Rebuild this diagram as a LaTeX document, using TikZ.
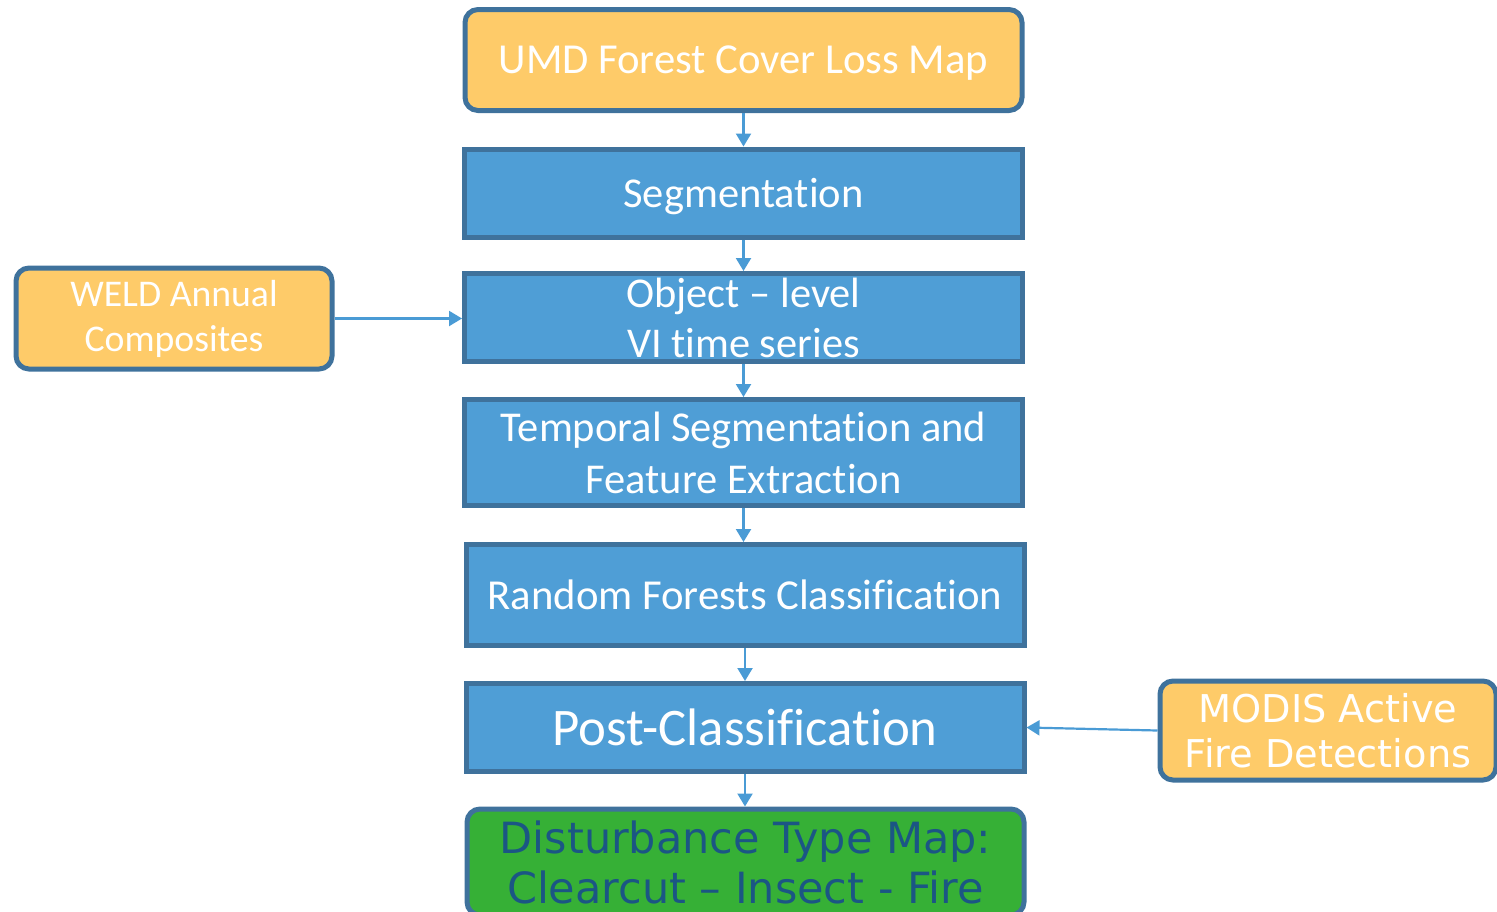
\documentclass[tikz,border=0pt]{standalone}
\usepackage{fontspec}
\setmainfont{Carlito}[Ligatures={TeX,NoCommon}]
\newfontfamily\verd{DejaVu Sans}[Ligatures=TeX]
\usetikzlibrary{arrows.meta}
\definecolor{orangefill}{HTML}{FECB69}
\definecolor{edgeblue}{HTML}{3F729C}
\definecolor{boxblue}{HTML}{4F9ED6}
\definecolor{arrowblue}{HTML}{4A9BD5}
\definecolor{greenfill}{HTML}{36B036}
\definecolor{darktext}{HTML}{1B5684}
\tikzset{
  box/.style={draw=edgeblue, line width=5pt, inner sep=0pt, align=center, text=white},
  ibox/.style={box, rounded corners=13pt, fill=orangefill},
  pbox/.style={box, fill=boxblue},
  oneline/.style={text depth=0pt},
  conn/.style={draw=arrowblue, line width=2.2pt, -{Triangle[length=13pt,width=15pt]}},
}
\begin{document}
\begin{tikzpicture}[x=1pt,y=-1pt]
\useasboundingbox (0,0) rectangle (1497,911);
\begin{scope}
\clip (0,0) rectangle (1497,911);
\node[ibox, oneline, minimum width=557pt, minimum height=101pt, font=\fontsize{42.7}{50}\selectfont] (umd) at (743.5,60) {UMD Forest Cover Loss Map};
\node[pbox, oneline, minimum width=558pt, minimum height=88pt, font=\fontsize{42.5}{50}\selectfont] (seg) at (743.5,193) {Segmentation};
\node[pbox, minimum width=558pt, minimum height=88pt, font=\fontsize{42.4}{50}\selectfont] (obj) at (743.5,317.5) {Object – level\\VI time series};
\node[pbox, minimum width=558pt, minimum height=106pt, font=\fontsize{42.5}{52}\selectfont] (temp) at (743.5,452.5) {Temporal Segmentation and\\Feature Extraction};
\node[pbox, oneline, minimum width=558pt, minimum height=101pt, font=\fontsize{42.7}{50}\selectfont] (rf) at (745,595) {Random Forests Classification};
\node[pbox, oneline, minimum width=558pt, minimum height=88pt, font=\fontsize{52.8}{60}\selectfont] (post) at (745,727.5) {Post-Classification};
\node[ibox, fill=greenfill, text=darktext, minimum width=557pt, minimum height=106pt, font=\verd\fontsize{43}{50}\selectfont] (dist) at (745.5,862) {Disturbance Type Map:\\Clearcut – Insect - Fire};
\node[ibox, minimum width=316pt, minimum height=101pt, font=\fontsize{37.7}{45}\selectfont] (weld) at (174,318.5) {WELD Annual\\Composites};
\node[ibox, minimum width=336pt, minimum height=99pt, font=\verd\fontsize{38.3}{45}\selectfont] (modis) at (1328,730.5) {MODIS Active\\Fire Detections};
\end{scope}
\draw[conn] (umd.south) -- (seg.north);
\draw[conn] (seg.south) -- (obj.north);
\draw[conn] (obj.south) -- (temp.north);
\draw[conn] (temp.south) -- (rf.north -| temp.south);
\draw[conn] (rf.south) -- (post.north);
\draw[conn] (post.south) -- (dist.north -| post.south);
\draw[conn] (weld.east) -- (obj.west |- weld.east);
\draw[conn] (modis.west) -- (post.east);
\end{tikzpicture}
\end{document}
